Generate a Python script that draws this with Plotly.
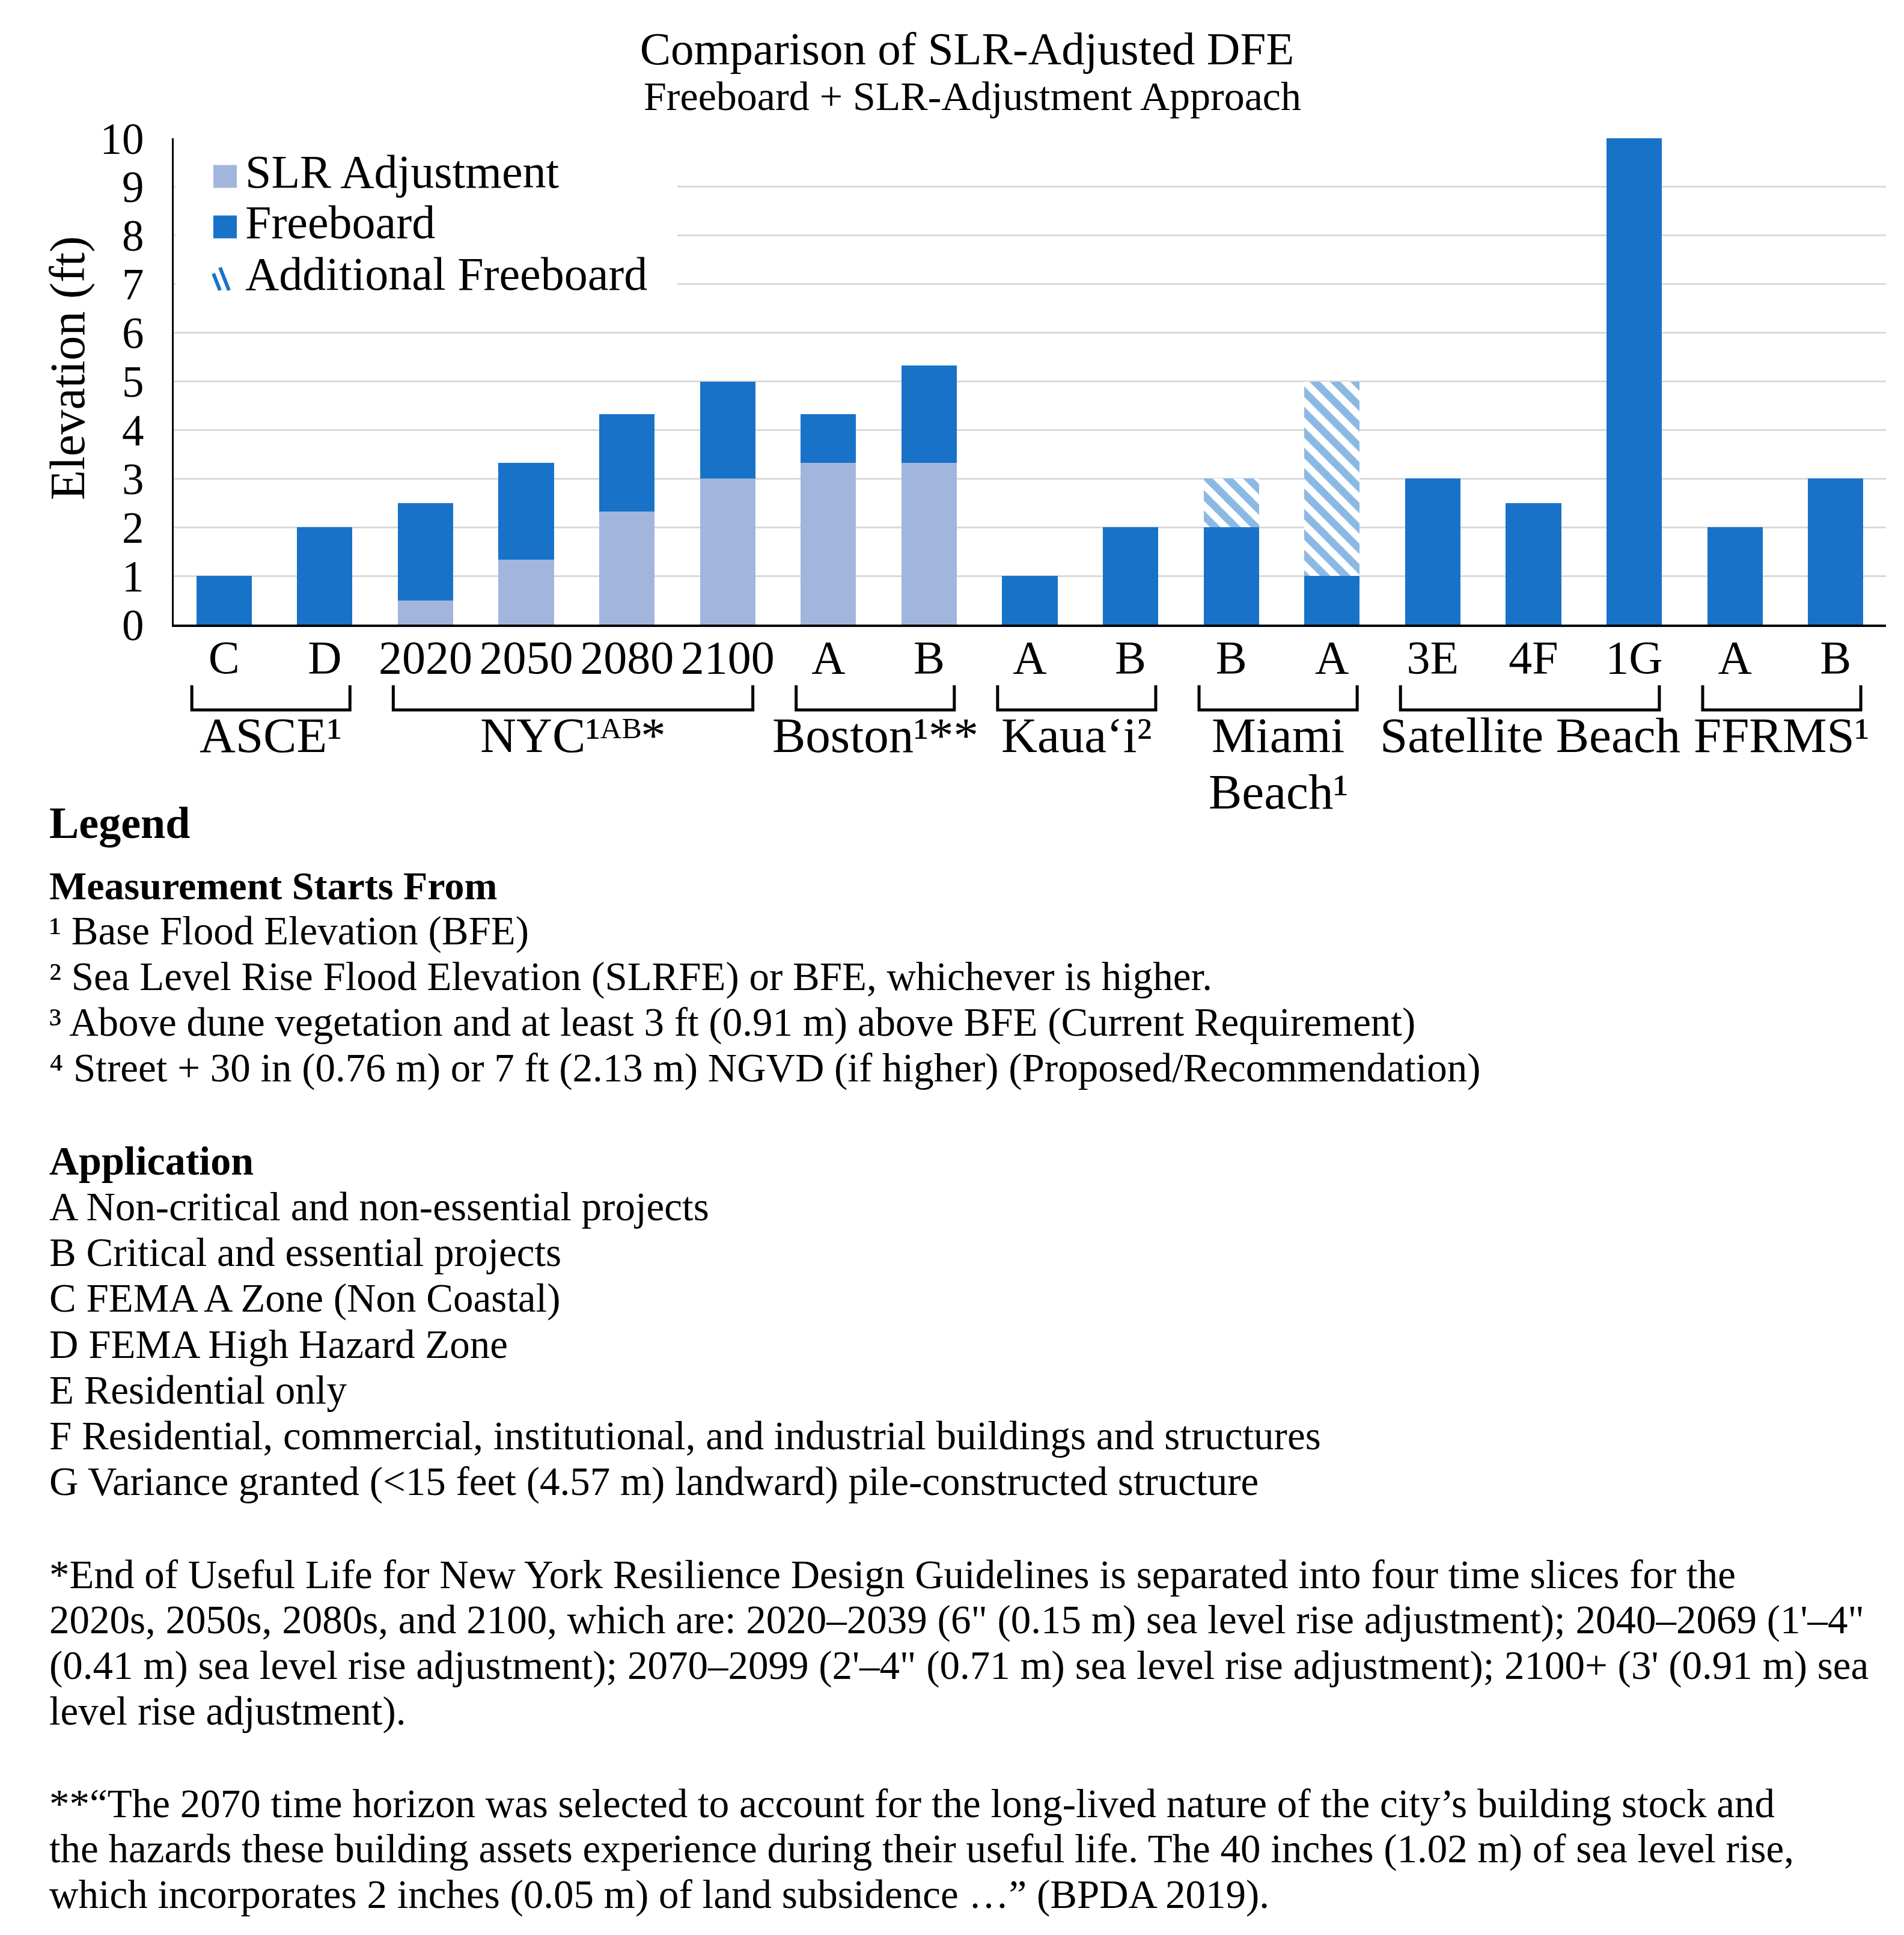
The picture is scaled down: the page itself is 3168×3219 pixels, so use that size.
import plotly.graph_objects as go

# ---------------- data ----------------
categories = ["C", "D", "2020", "2050", "2080", "2100", "A", "B", "A", "B",
              "B", "A", "3E", "4F", "1G", "A", "B"]
slr_adjustment = [0, 0, 0.5, 1.33, 2.33, 3, 3.33, 3.33, 0, 0, 0, 0, 0, 0, 0, 0, 0]
freeboard = [1, 2, 2, 2, 2, 2, 1, 2, 1, 2, 2, 1, 3, 2.5, 10, 2, 3]
additional_freeboard = [0, 0, 0, 0, 0, 0, 0, 0, 0, 0, 1, 4, 0, 0, 0, 0, 0]

group_names = ["ASCE¹", "NYC¹ᴬᴮ*", "Boston¹**",
               "Kaua‘i²", "Miami<br>Beach¹", "Satellite Beach", "FFRMS¹"]
group_sizes = [2, 4, 2, 2, 2, 3, 2]

y_ticks = [0, 1, 2, 3, 4, 5, 6, 7, 8, 9, 10]
series_names = ["SLR Adjustment", "Freeboard", "Additional Freeboard"]

measurement_lines = [
    "¹ Base Flood Elevation (BFE)",
    "² Sea Level Rise Flood Elevation (SLRFE) or BFE, whichever is higher.",
    "³ Above dune vegetation and at least 3 ft (0.91 m) above BFE (Current Requirement)",
    "⁴ Street + 30 in (0.76 m) or 7 ft (2.13 m) NGVD (if higher) (Proposed/Recommendation)",
]
application_lines = [
    "A Non-critical and non-essential projects",
    "B Critical and essential projects",
    "C FEMA A Zone (Non Coastal)",
    "D FEMA High Hazard Zone",
    "E Residential only",
    "F Residential, commercial, institutional, and industrial buildings and structures",
    "G Variance granted (&lt;15 feet (4.57 m) landward) pile-constructed structure",
]
nyc_note_lines = [
    "*End of Useful Life for New York Resilience Design Guidelines is separated into four time slices for the",
    "2020s, 2050s, 2080s, and 2100, which are: 2020–2039 (6\" (0.15 m) sea level rise adjustment); 2040–2069 (1'–4\"",
    "(0.41 m) sea level rise adjustment); 2070–2099 (2'–4\" (0.71 m) sea level rise adjustment); 2100+ (3' (0.91 m) sea",
    "level rise adjustment).",
]
boston_note_lines = [
    "**“The 2070 time horizon was selected to account for the long-lived nature of the city’s building stock and",
    "the hazards these building assets experience during their useful life. The 40 inches (1.02 m) of sea level rise,",
    "which incorporates 2 inches (0.05 m) of land subsidence …” (BPDA 2019).",
]

# ---------------- styling / layout ----------------
FONT = "Liberation Serif"
BLUE = "#1873C8"
LIGHT = "#A2B6DD"
W, H = 3168, 3219
L, R, T, BOT = 281, 3130, 222, 1031
PW, PH = R - L, BOT - T


def xp(px):
    return (px - L) / PW


def yp(py):
    return (BOT - py) / PH


def mid(py, size):
    # correct plotly's middle anchoring so the cap-height centre sits at py
    return yp(py - 0.105 * size)


xpos = list(range(len(categories)))

fig = go.Figure()
fig.add_trace(go.Bar(x=xpos, y=slr_adjustment, name=series_names[0],
                     marker=dict(color=LIGHT, line=dict(width=0)), showlegend=False))
fig.add_trace(go.Bar(x=xpos, y=freeboard, name=series_names[1],
                     marker=dict(color=BLUE, line=dict(width=0)), showlegend=False))
fig.add_trace(go.Bar(x=xpos, y=additional_freeboard, name=series_names[2],
                     marker=dict(color=BLUE, line=dict(width=0),
                                 pattern=dict(shape="\\", fgcolor=BLUE, bgcolor="white",
                                              size=24, solidity=0.52)),
                     showlegend=False))

shapes = []
annotations = []

# group brackets and labels
start = 0
y_top, y_bot = yp(1132), yp(1173)
for name, size in zip(group_names, group_sizes):
    s, e = start, start + size - 1
    x0, x1 = s - 0.32, e + 0.25
    shapes.append(dict(type="path", xref="x", yref="paper",
                       path=f"M {x0},{y_top} L {x0},{y_bot} L {x1},{y_bot} L {x1},{y_top}",
                       line=dict(color="black", width=5)))
    for k, line in enumerate(name.split("<br>")):
        annotations.append(dict(text=line, xref="x", yref="paper", x=(x0 + x1) / 2,
                                y=mid(1224 + 94 * k, 83),
                                xanchor="center", yanchor="middle",
                                showarrow=False, font=dict(family=FONT, size=83, color="black")))
    start += size

# custom legend (white box hides gridlines like the original legend box)
shapes.append(dict(type="rect", xref="paper", yref="paper", x0=xp(284), x1=xp(1119),
                   y0=yp(505), y1=yp(223), fillcolor="white", line=dict(width=0), layer="above"))
leg_y = [285.5, 369.5, 456]
shapes.append(dict(type="rect", xref="paper", yref="paper", x0=xp(347), x1=xp(386),
                   y0=yp(leg_y[0] + 19), y1=yp(leg_y[0] - 19), fillcolor=LIGHT,
                   line=dict(width=0), layer="above"))
shapes.append(dict(type="rect", xref="paper", yref="paper", x0=xp(347), x1=xp(386),
                   y0=yp(leg_y[1] + 19), y1=yp(leg_y[1] - 19), fillcolor=BLUE,
                   line=dict(width=0), layer="above"))
for (ax0, ay0, ax1, ay1) in [(347, 447, 358, 475), (358, 437, 373, 475)]:
    shapes.append(dict(type="line", xref="paper", yref="paper", x0=xp(ax0), y0=yp(ay0),
                       x1=xp(ax1), y1=yp(ay1), line=dict(color=BLUE, width=6), layer="above"))
for name, yy in zip(series_names, leg_y):
    annotations.append(dict(text=name, xref="paper", yref="paper", x=xp(398), y=mid(yy, 78),
                            xanchor="left", yanchor="middle", showarrow=False,
                            font=dict(family=FONT, size=78, color="black")))

# y-axis title
annotations.append(dict(text="Elevation (ft)", xref="paper", yref="paper", x=xp(104),
                        y=yp(605), xanchor="center", yanchor="middle", textangle=-90,
                        showarrow=False, font=dict(family=FONT, size=82, color="black")))

# subtitle
annotations.append(dict(text="Freeboard + SLR-Adjustment Approach", xref="paper", yref="paper",
                        x=xp(1610), y=mid(159, 68), xanchor="center", yanchor="middle",
                        showarrow=False, font=dict(family=FONT, size=68, color="black")))


# text block below the chart
def add_line(text, y, size=67, bold=False):
    annotations.append(dict(text=f"<b>{text}</b>" if bold else text, xref="paper", yref="paper",
                            x=xp(72), y=mid(y, size), xanchor="left", yanchor="middle",
                            showarrow=False, font=dict(family=FONT, size=size, color="black")))


add_line("Legend", 1369, size=74, bold=True)
add_line("Measurement Starts From", 1472, size=66, bold=True)
for i, t in enumerate(measurement_lines):
    add_line(t, 1548 + 76 * i)
add_line("Application", 1930, size=68, bold=True)
for i, t in enumerate(application_lines):
    add_line(t, 2006 + 76.3 * i)
for i, t in enumerate(nyc_note_lines):
    add_line(t, 2618 + 75.7 * i)
for i, t in enumerate(boston_note_lines):
    add_line(t, 2999 + 76 * i)

fig.update_layout(
    width=W, height=H,
    margin=dict(l=L, r=W - R, t=T, b=H - BOT, pad=0),
    paper_bgcolor="white", plot_bgcolor="white",
    barmode="stack", bargap=0.45,
    title=dict(text="Comparison of SLR-Adjusted DFE", xref="container", yref="container",
               x=1601 / W, xanchor="center", y=1 - 72 / H, yanchor="middle",
               font=dict(family=FONT, size=77, color="black")),
    xaxis=dict(range=[-0.5, len(categories) - 0.5], tickmode="array", tickvals=xpos,
               ticktext=categories, showgrid=False, zeroline=False, showline=True,
               linecolor="black", linewidth=4, ticks="", ticklabelstandoff=-17,
               tickfont=dict(family=FONT, size=78, color="black"), fixedrange=True),
    yaxis=dict(range=[0, 10], tickmode="array", tickvals=y_ticks, showgrid=False,
               zeroline=False, showline=True, linecolor="black", linewidth=3, ticks="",
               ticklabelstandoff=32, tickfont=dict(family=FONT, size=73, color="black"),
               minor=dict(tickmode="array", tickvals=y_ticks[1:-1], showgrid=True,
                          gridcolor="#D9D9D9", gridwidth=3, ticks="")),
    shapes=shapes, annotations=annotations,
    showlegend=False,
)

fig.write_html("out.html")
